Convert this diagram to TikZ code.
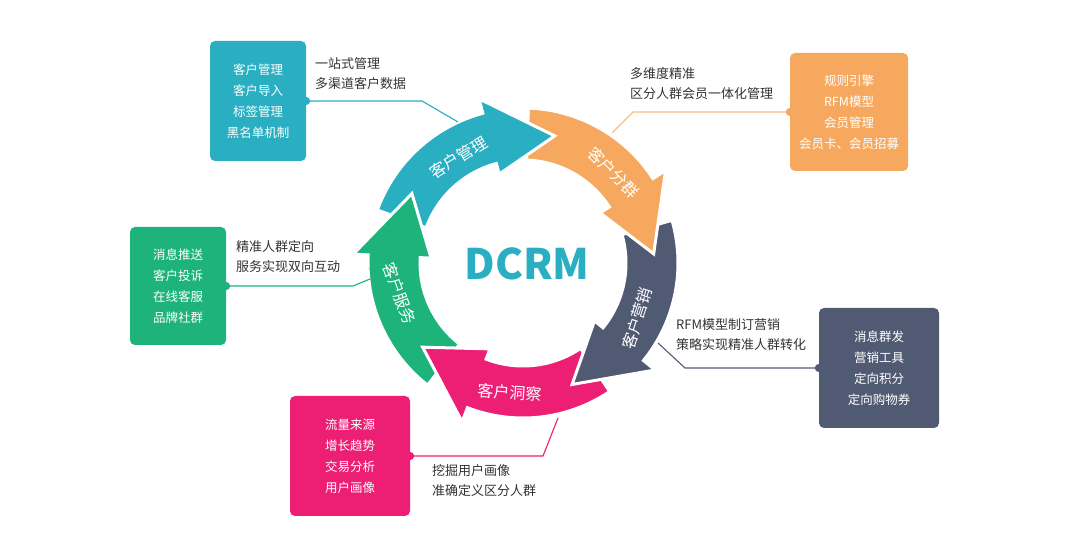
\documentclass[tikz,border=0pt]{standalone}
\usepackage{fontspec}
\setmainfont{Noto Sans CJK SC}
\usetikzlibrary{positioning}
\definecolor{dcteal}{HTML}{2AAFC2}
\definecolor{dcorange}{HTML}{F6A95E}
\definecolor{dcslate}{HTML}{505B73}
\definecolor{dcpink}{HTML}{EC1F74}
\definecolor{dcgreen}{HTML}{1DB37B}
\definecolor{notegray}{HTML}{333333}
\tikzset{
    infobox/.style={rounded corners=5pt, text=white, align=center, inner sep=0pt,
        font=\fontsize{12.5}{21}\selectfont},
    note/.style={anchor=west, align=left, text=notegray, inner sep=0pt,
        font=\fontsize{13}{20}\selectfont},
    ringlabel/.style={text=white, inner sep=0pt, font=\fontsize{16}{16}\selectfont},
    ringarrow/.style={draw=white, line width=3pt},
    link/.style={line width=1.1pt}
}

\begin{document}
\begin{tikzpicture}[x=1pt, y=1pt]
    \fill[white] (0, 0) rectangle (1080, 535);
    \useasboundingbox (0, 0) rectangle (1080, 535);
    \begin{scope}[shift={(523, 272)}]
        \foreach \col/\a in {dcgreen/-128, dcpink/-56, dcslate/16, dcorange/88, dcteal/160}
            \filldraw[ringarrow, fill=\col] (\a:155pt) arc[start angle=\a, end angle=\a-55, radius=155pt]
                -- ({\a-55}:170pt) -- ({\a-84}:131pt) -- ({\a-55}:92pt) -- ({\a-55}:103pt)
                arc[start angle=\a-55, end angle=\a, radius=103pt] -- cycle;
        \begin{scope}
            \clip (0, 0) -- (-178:220pt) arc[start angle=-178, end angle=-222, radius=220pt] -- cycle;
            \filldraw[ringarrow, fill=dcgreen] (-128:155pt) arc[start angle=-128, end angle=-183, radius=155pt]
                -- (-183:170pt) -- (-212:131pt) -- (-183:92pt) -- (-183:103pt)
                arc[start angle=-183, end angle=-128, radius=103pt] -- cycle;
        \end{scope}
        \node[ringlabel, rotate=31.5] (mgmtlabel) at (121.5:124pt) {客户管理};
        \node[ringlabel, rotate=-45] (seglabel) at (45:128pt) {客户分群};
        \node[ringlabel, rotate=72] (mktlabel) at (-26:127pt) {客户营销};
        \node[ringlabel, rotate=-4] (insightlabel) at (-95.7:130pt) {客户洞察};
        \node[ringlabel, rotate=-70] (servlabel) at (193.7:127pt) {客户服务};
        \node[text=dcteal, font=\fontsize{42}{42}\selectfont\bfseries] (dcrm) at (4, -1) {DCRM};
    \end{scope}

    \node[infobox, fill=dcteal, minimum width=96, minimum height=120] (mgmtbox) at (258, 434)
        {客户管理\\客户导入\\标签管理\\黑名单机制};
    \node[infobox, fill=dcorange, minimum width=118, minimum height=118] (segbox) at (849, 423)
        {规则引擎\\RFM模型\\会员管理\\会员卡、会员招募};
    \node[infobox, fill=dcgreen, minimum width=96, minimum height=118] (servbox) at (178, 249)
        {消息推送\\客户投诉\\在线客服\\品牌社群};
    \node[infobox, fill=dcslate, minimum width=120, minimum height=120] (mktbox) at (879, 167)
        {消息群发\\营销工具\\定向积分\\定向购物券};
    \node[infobox, fill=dcpink, minimum width=120, minimum height=120] (insightbox) at (350, 79)
        {流量来源\\增长趋势\\交易分析\\用户画像};

    \node[note] (mgmtnote) at (315, 461) {一站式管理\\多渠道客户数据};
    \node[note] (segnote) at (630, 451) {多维度精准\\区分人群会员一体化管理};
    \node[note] (servnote) at (236, 278) {精准人群定向\\服务实现双向互动};
    \node[note] (mktnote) at (676, 200) {RFM模型制订营销\\策略实现精准人群转化};
    \node[note] (insightnote) at (432, 54) {挖掘用户画像\\准确定义区分人群};

    \coordinate (mgmtbend) at (422, 434);
    \coordinate (mgmtend) at (458, 413);
    \coordinate (segbend) at (633, 423);
    \coordinate (segend) at (612, 402);
    \coordinate (servbend) at (353, 249);
    \coordinate (servend) at (370, 256);
    \coordinate (mktbend) at (685, 167);
    \coordinate (mktend) at (658, 192);
    \coordinate (insightbend) at (543, 79);
    \coordinate (insightend) at (558, 117);

    \draw[link, dcteal] (mgmtbox.east) -- (mgmtbend) -- (mgmtend);
    \draw[link, dcorange!75] (segbox.west) -- (segbend) -- (segend);
    \draw[link, dcgreen] (servbox.east) -- (servbend) -- (servend);
    \draw[link, dcslate] (mktbox.west) -- (mktbend) -- (mktend);
    \draw[link, dcpink] (insightbox.east) -- (insightbend) -- (insightend);
    \fill[dcteal] (mgmtbox.east) circle[radius=4pt];
    \fill[dcorange] (segbox.west) circle[radius=4pt];
    \fill[dcgreen] (servbox.east) circle[radius=4pt];
    \fill[dcslate] (mktbox.west) circle[radius=4pt];
    \fill[dcpink] (insightbox.east) circle[radius=4pt];
\end{tikzpicture}
\end{document}
